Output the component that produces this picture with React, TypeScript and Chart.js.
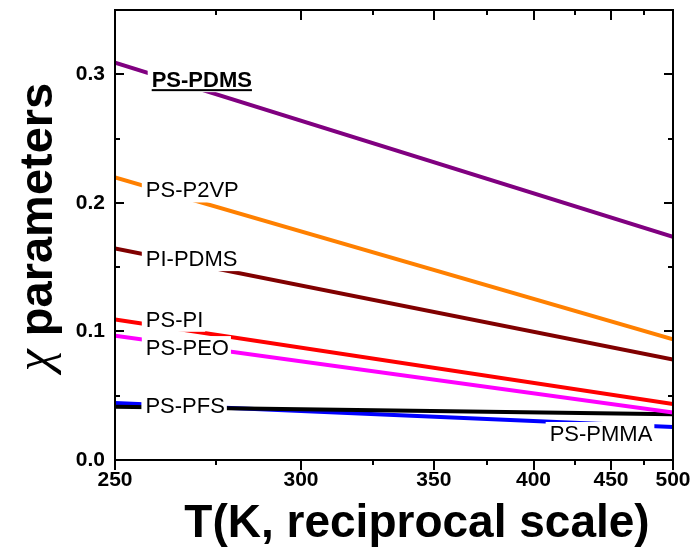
import React, { useEffect, useRef } from "react";
import { Chart, registerables } from "chart.js";

Chart.register(...registerables);

// ---- data ----
const temperatures = [250, 500];
const psPdms = [0.309, 0.1735];
const psP2vp = [0.2197, 0.0938];
const piPdms = [0.1645, 0.0782];
const psPi = [0.1093, 0.0435];
const psPeo = [0.0966, 0.037];
const psPfs = [0.0414, 0.0355];
const psPmma = [0.0443, 0.0256];

const seriesNames = ["PS-PDMS", "PS-P2VP", "PI-PDMS", "PS-PI", "PS-PEO", "PS-PFS", "PS-PMMA"];
const seriesValues = [psPdms, psP2vp, piPdms, psPi, psPeo, psPfs, psPmma];
const seriesColors = ["#800080", "#ff8000", "#800000", "#ff0000", "#ff00ff", "#000000", "#0000ff"];

const majorTempTicks = [250, 300, 350, 400, 450, 500];
const minorTempTicks = [275, 325, 375, 425, 475];
const chiMajorTicks = [0.0, 0.1, 0.2, 0.3];
const chiMinorTicks = [0.05, 0.15, 0.25];

// label anchors: text left / baseline, in (T, chi)
const labelT = [258.5, 257.1, 257.1, 257.1, 257.1, 257.0, 409.5];
const labelChi = [0.29, 0.2042, 0.1508, 0.1036, 0.0816, 0.0365, 0.0148];

const FONT = "'Liberation Sans', Arial, Helvetica, sans-serif";

const decorPlugin = {
  id: "decor",
  afterDatasetsDraw(chart: any) {
    const { ctx, chartArea: a } = chart;
    const xs = chart.scales.x;
    const ys = chart.scales.y;
    ctx.save();
    // series labels with white boxes
    ctx.textBaseline = "alphabetic";
    ctx.textAlign = "left";
    seriesNames.forEach((name, i) => {
      const bold = i === 0;
      ctx.font = `${bold ? "bold " : ""}22px ${FONT}`;
      const px = xs.getPixelForValue(1000 / labelT[i]);
      const py = ys.getPixelForValue(labelChi[i]);
      const w = ctx.measureText(name).width;
      ctx.fillStyle = "#ffffff";
      ctx.fillRect(px - 4, py - 19, w + 6, 24);
      ctx.fillStyle = "#000000";
      ctx.fillText(name, px, py);
      if (bold) {
        ctx.fillRect(px, py + 2, w, 2);
      }
    });
    // frame
    ctx.strokeStyle = "#000";
    ctx.lineWidth = 2;
    ctx.strokeRect(a.left, a.top, a.right - a.left, a.bottom - a.top);
    // x ticks: bottom outward, top inward
    ctx.beginPath();
    const xt = (t: number, len: number) => {
      const p = Math.round(xs.getPixelForValue(1000 / t));
      ctx.moveTo(p, a.bottom);
      ctx.lineTo(p, a.bottom + len);
      ctx.moveTo(p, a.top);
      ctx.lineTo(p, a.top + len);
    };
    majorTempTicks.forEach((t) => xt(t, 10));
    minorTempTicks.forEach((t) => xt(t, 5));
    const yt = (v: number, len: number) => {
      const p = Math.round(ys.getPixelForValue(v));
      ctx.moveTo(a.left, p);
      ctx.lineTo(a.left + len, p);
      ctx.moveTo(a.right, p);
      ctx.lineTo(a.right - len, p);
    };
    chiMajorTicks.forEach((v) => yt(v, 9));
    chiMinorTicks.forEach((v) => yt(v, 5));
    ctx.stroke();
    // axis titles
    ctx.fillStyle = "#000";
    ctx.font = `bold 46px ${FONT}`;
    ctx.textAlign = "center";
    ctx.textBaseline = "alphabetic";
    ctx.fillText("T(K, reciprocal scale)", 417, 537);
    // y title: chi (symbol-like) + bold "parameters"
    ctx.save();
    ctx.translate(52, 227);
    ctx.rotate(-Math.PI / 2);
    ctx.textAlign = "left";
    ctx.textBaseline = "alphabetic";
    const chiFont = `italic 50px 'Liberation Serif', 'DejaVu Serif', serif`;
    const wordFont = `bold 47px ${FONT}`;
    ctx.font = chiFont;
    const chiW = ctx.measureText("\u03c7").width;
    ctx.font = wordFont;
    const spaceW = ctx.measureText(" ").width;
    const wordW = ctx.measureText("parameters").width;
    const total = chiW + spaceW + wordW;
    let cx = -total / 2;
    ctx.font = chiFont;
    ctx.fillText("\u03c7", cx, -2);
    cx += chiW + spaceW;
    ctx.font = wordFont;
    ctx.fillText("parameters", cx, 0);
    ctx.restore();
    ctx.restore();
  },
};

export default function App() {
  const ref = useRef<HTMLCanvasElement | null>(null);
  useEffect(() => {
    document.body.style.margin = "0";
    const canvas = ref.current!;
    const chart = new Chart(canvas, {
      type: "line",
      data: {
        datasets: seriesNames.map((name, i) => ({
          label: name,
          data: temperatures.map((t, j) => ({ x: 1000 / t, y: seriesValues[i][j] })),
          borderColor: seriesColors[i],
          backgroundColor: seriesColors[i],
          borderWidth: 4,
          pointRadius: 0,
          tension: 0,
          fill: false,
        })),
      },
      options: {
        responsive: false,
        animation: false,
        devicePixelRatio: 1,
        layout: { padding: { top: 10, right: 18, left: 0, bottom: 0 } },
        plugins: { legend: { display: false }, tooltip: { enabled: false } },
        scales: {
          x: {
            type: "linear",
            reverse: true,
            min: 2,
            max: 4,
            grid: { display: false, drawTicks: false },
            border: { display: false },
            afterBuildTicks: (s: any) => {
              s.ticks = [...majorTempTicks, ...minorTempTicks].map((t) => ({ value: 1000 / t }));
            },
            afterFit: (s: any) => {
              s.height = 90;
              s.paddingLeft = 0;
              s.paddingRight = 0;
            },
            ticks: {
              autoSkip: false,
              maxRotation: 0,
              padding: 8,
              color: "#000",
              font: { family: FONT, size: 21, weight: "bold" },
              callback: (v: any) => {
                const T = Math.round(1000 / Number(v));
                return majorTempTicks.includes(T) ? String(T) : "";
              },
            },
          },
          y: {
            type: "linear",
            min: 0,
            max: 0.35,
            grid: { display: false, drawTicks: false },
            border: { display: false },
            afterBuildTicks: (s: any) => {
              s.ticks = chiMajorTicks.map((v) => ({ value: v }));
            },
            afterFit: (s: any) => {
              s.width = 115;
              s.paddingTop = 0;
              s.paddingBottom = 0;
            },
            ticks: {
              padding: 10,
              color: "#000",
              font: { family: FONT, size: 21, weight: "bold" },
              callback: (v: any) => Number(v).toFixed(1),
            },
          },
        },
      },
      plugins: [decorPlugin],
    });
    return () => chart.destroy();
  }, []);
  return (
    <div style={{ width: 691, height: 550 }}>
      <canvas ref={ref} width={691} height={550} style={{ display: "block" }} />
    </div>
  );
}
